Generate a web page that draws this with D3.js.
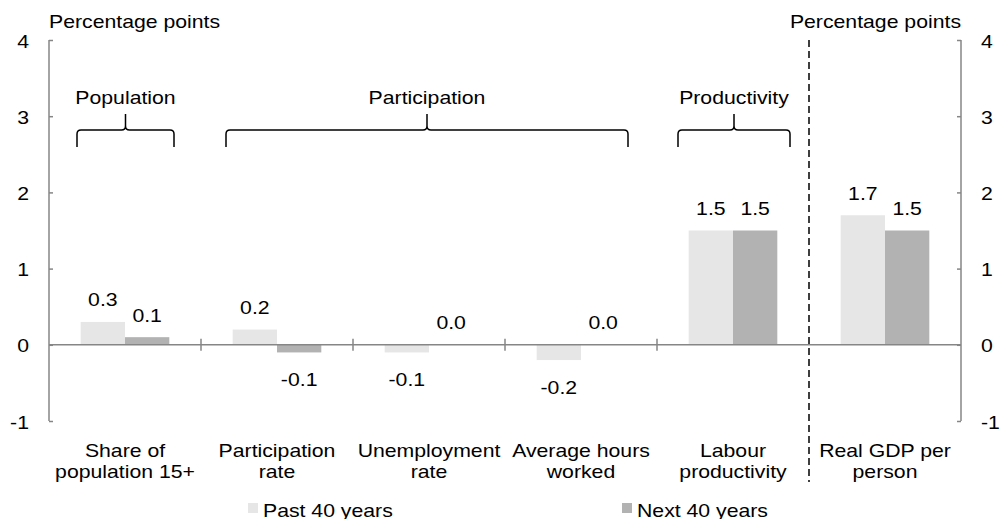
<!DOCTYPE html>
<html>
<head>
<meta charset="utf-8">
<script src="https://cdn.jsdelivr.net/npm/d3@7"></script>
<style>
  html, body { margin: 0; padding: 0; background: #fff; }
  svg { display: block; }
  text { font-family: "Liberation Sans", Arial, sans-serif; fill: #000; }
</style>
</head>
<body>
<div id="chart"></div>
<script>
// Data
const categories = ["Share of population 15+", "Participation rate", "Unemployment rate",
  "Average hours worked", "Labour productivity", "Real GDP per person"];
const categoryLines = [["Share of", "population 15+"], ["Participation", "rate"],
  ["Unemployment", "rate"], ["Average hours", "worked"], ["Labour", "productivity"],
  ["Real GDP per", "person"]];
const seriesNames = ["Past 40 years", "Next 40 years"];
const pastValues = [0.3, 0.2, -0.1, -0.2, 1.5, 1.7];
const nextValues = [0.1, -0.1, 0.0, 0.0, 1.5, 1.5];
const yTicks = [-1, 0, 1, 2, 3, 4];
const groupNames = ["Population", "Participation", "Productivity"];
const groupFirst = [0, 1, 4];
const groupLast = [0, 3, 4];

(function () {
  const W = 1000, H = 519;
  const SX = 1.18;           // the source image is a bit stretched sideways
  const FS = 18;
  const colors = ["#e6e6e6", "#b2b2b2"];
  const axisColor = "#868686";

  const svg = d3.select("#chart").append("svg")
    .attr("width", W).attr("height", H);

  const left = 49, right = 961;
  const y = d3.scaleLinear().domain([-1, 4]).range([421, 40]);

  const x0 = d3.scaleBand().domain(categories).range([left, right]).padding(0);
  const x1 = d3.scaleBand().domain(seriesNames).range([0, x0.bandwidth()])
    .paddingInner(0).paddingOuter(0.715);

  // text helper, squeezed sideways like the source
  function addText(parent, x, yy, str, anchor) {
    return parent.append("text")
      .attr("transform", `translate(${x},${yy}) scale(${SX},1)`)
      .attr("text-anchor", anchor || "start")
      .style("font-size", FS + "px")
      .text(str);
  }

  const rows = categories.map((c, i) => ({ cat: c, values: [pastValues[i], nextValues[i]] }));

  // Bars
  const barG = svg.append("g");
  rows.forEach(r => {
    r.values.forEach((v, j) => {
      const s = seriesNames[j];
      barG.append("rect")
        .attr("x", x0(r.cat) + x1(s))
        .attr("width", x1.bandwidth())
        .attr("y", y(Math.max(0, v)))
        .attr("height", Math.abs(y(v) - y(0)))
        .attr("fill", colors[j]);
    });
  });

  // Zero axis line with category separators
  svg.append("line")
    .attr("x1", left).attr("x2", right)
    .attr("y1", y(0)).attr("y2", y(0))
    .attr("stroke", axisColor).attr("stroke-width", 1.5);

  categories.slice(1, 5).forEach(c => {
    const xx = x0(c);
    svg.append("line")
      .attr("x1", xx).attr("x2", xx)
      .attr("y1", y(0) - 6).attr("y2", y(0) + 6)
      .attr("stroke", axisColor).attr("stroke-width", 1.5);
  });

  // Left and right value axes
  const leftAxis = d3.axisRight(y).tickValues(yTicks).tickSize(4).tickFormat("");
  const rightAxis = d3.axisLeft(y).tickValues(yTicks).tickSize(4).tickFormat("");

  [[leftAxis, left], [rightAxis, right]].forEach(([ax, xx]) => {
    const g = svg.append("g").attr("transform", `translate(${xx},0)`).call(ax);
    g.select(".domain").remove();
    g.selectAll(".tick line").attr("stroke", axisColor).attr("stroke-width", 1.5);
    g.append("line")
      .attr("y1", y(4)).attr("y2", y(-1))
      .attr("stroke", axisColor).attr("stroke-width", 1.5);
  });

  yTicks.forEach(t => {
    addText(svg, 29, y(t) + 7.5, String(t), "end");
    addText(svg, 981, y(t) + 7.5, String(t), "start");
  });

  // Dashed divider before the GDP category
  const divX = x0(categories[5]);
  svg.append("line")
    .attr("x1", divX).attr("x2", divX)
    .attr("y1", y(4)).attr("y2", 482)
    .attr("stroke", "#000").attr("stroke-width", 1.5)
    .attr("stroke-dasharray", "7,4");

  // Axis titles
  addText(svg, left, 28, "Percentage points", "start");
  addText(svg, right, 28, "Percentage points", "end");

  // Data labels
  rows.forEach(r => {
    r.values.forEach((v, j) => {
      const cx = x0(r.cat) + x1(seriesNames[j]) + x1.bandwidth() / 2;
      const ly = v >= 0 ? y(v) - 15.5 : y(v) + 34;
      addText(svg, cx, ly, v.toFixed(1), "middle");
    });
  });

  // Category labels
  categoryLines.forEach((lines, i) => {
    const cx = x0(categories[i]) + x0.bandwidth() / 2;
    lines.forEach((ln, k) => addText(svg, cx, 457 + k * 21, ln, "middle"));
  });

  // Group braces (insets from the category band edges)
  const insetL = [28, 25, 21], insetR = [27, 29, 19];
  const yb = 147, yh = 130, ytop = 114, rr = 4;
  groupNames.forEach((name, i) => {
    const bandA = x0(categories[groupFirst[i]]);
    const bandB = x0(categories[groupLast[i]]) + x0.bandwidth();
    const xa = bandA + insetL[i];
    const xb = bandB - insetR[i];
    const xm = (xa + xb) / 2;
    const p = d3.path();
    p.moveTo(xa, yb);
    p.lineTo(xa, yh + rr);
    p.quadraticCurveTo(xa, yh, xa + rr, yh);
    p.lineTo(xm - rr, yh);
    p.quadraticCurveTo(xm, yh, xm, yh - rr);
    p.lineTo(xm, ytop);
    p.moveTo(xm, yh - rr);
    p.quadraticCurveTo(xm, yh, xm + rr, yh);
    p.lineTo(xb - rr, yh);
    p.quadraticCurveTo(xb, yh, xb, yh + rr);
    p.lineTo(xb, yb);
    svg.append("path")
      .attr("d", p.toString())
      .attr("fill", "none")
      .attr("stroke", "#000")
      .attr("stroke-width", 1.5);
    addText(svg, xm, 104, name, "middle");
  });

  // Legend
  const legendX = [248, 622];
  seriesNames.forEach((s, j) => {
    svg.append("rect")
      .attr("x", legendX[j]).attr("y", 503)
      .attr("width", 10).attr("height", 10)
      .attr("fill", colors[j]);
    addText(svg, legendX[j] + 15, 517, s, "start");
  });
})();
</script>
</body>
</html>
